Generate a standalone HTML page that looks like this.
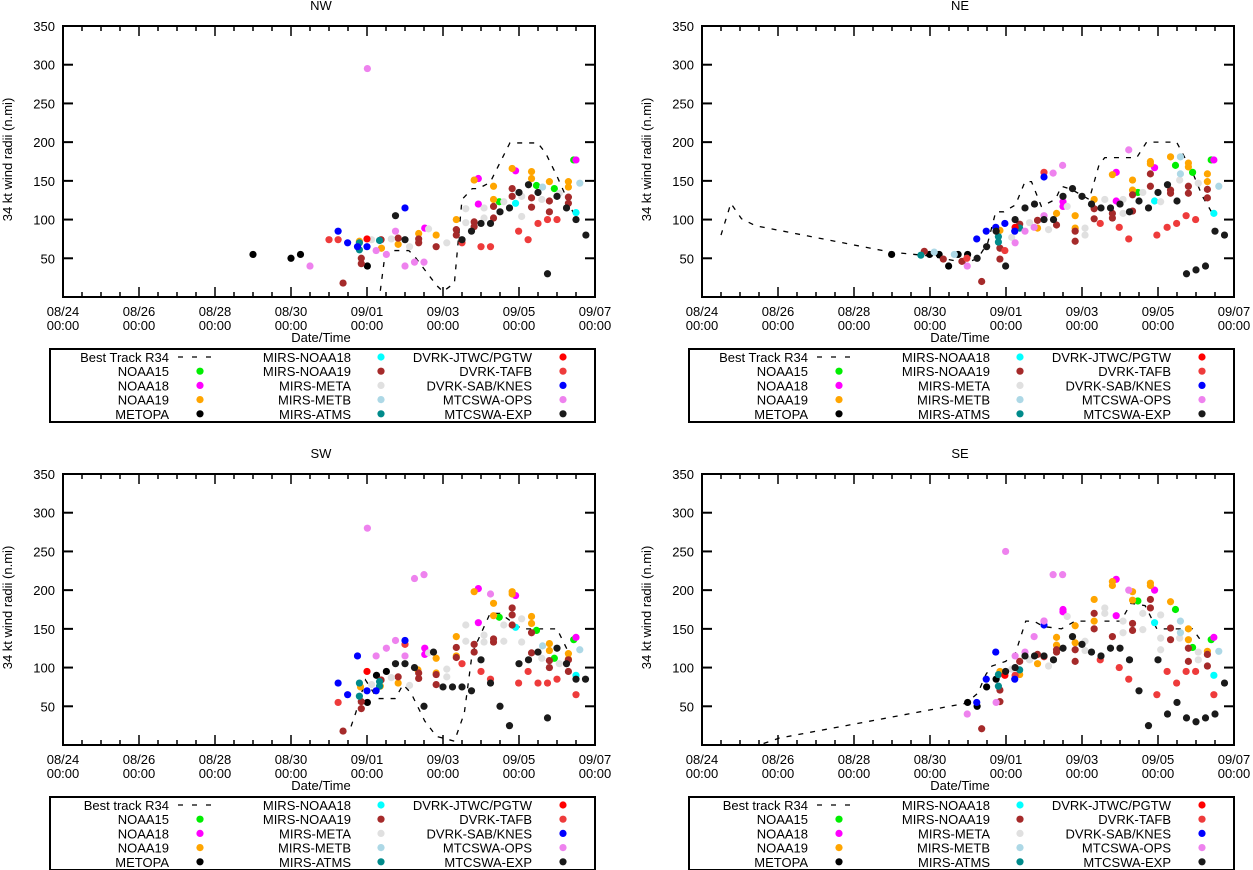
<!DOCTYPE html>
<html><head><meta charset="utf-8"><style>
html,body{margin:0;padding:0;background:#fff;}
svg{display:block;font-family:"Liberation Sans",sans-serif;}
</style></head><body>
<svg id="chart" width="1253" height="870" viewBox="0 0 1253 870" xmlns="http://www.w3.org/2000/svg"></svg>
<script>
// ---- shared axis data ----
const yTicks = [50,100,150,200,250,300,350];
const xTickLabels = ["08/24","08/26","08/28","08/30","09/01","09/03","09/05","09/07"];
const xTickDays = [0,2,4,6,8,10,12,14];
const seriesNames = ["NOAA15","NOAA18","NOAA19","METOPA","MIRS-NOAA18","MIRS-NOAA19","MIRS-META","MIRS-METB","MIRS-ATMS","DVRK-JTWC/PGTW","DVRK-TAFB","DVRK-SAB/KNES","MTCSWA-OPS","MTCSWA-EXP"];
const seriesColors = ["#00ee00","#ff00ff","#ffa500","#000000","#00ffff","#a52a2a","#e0e0e0","#add8e6","#008b8b","#ff0000","#ee3b3b","#0000ff","#ee82ee","#1a1a1a"];

// ---- NW (day offset from 08/24 00:00, radius n.mi) ----
const nwBest = [[8.35,8],[8.48,57],[8.58,60],[9.1,60],[9.26,52],[9.83,15],[10.0,7],[10.3,18],[10.5,126],[10.77,140],[10.93,140],[11.24,148],[11.76,199],[12.49,199],[12.7,186],[13.0,156],[13.47,104]];
const nwNOAA15 = [[11.48,123],[12.46,144],[12.93,140],[13.44,177]];
const nwNOAA18 = [[10.93,153],[10.93,120],[9.52,89],[11.91,163],[13.5,177]];
const nwNOAA19 = [[9.36,82],[9.82,80],[10.35,100],[10.82,151],[11.33,143],[11.33,126],[11.82,166],[12.33,162],[12.33,153],[12.8,149],[13.3,149],[13.3,142],[7.8,72],[8.38,63],[8.82,68]];
const nwMETOPA = [[5.0,55],[6.0,50],[6.25,55],[8.01,40]];
const nwMirsN18 = [[11.91,121],[13.5,109]];
const nwMirsN19 = [[7.37,18],[7.85,43],[7.85,50],[8.37,74],[8.82,76],[9.36,75],[9.36,70],[9.82,65],[10.35,87],[10.35,80],[10.82,97],[10.82,91],[11.33,117],[11.33,102],[11.82,140],[11.82,130],[12.33,128],[12.33,116],[12.8,124],[12.8,110],[13.3,129],[13.3,121]];
const nwMirsMETA = [[8.12,74],[8.64,75],[9.12,65],[9.62,88],[10.1,70],[10.6,114],[10.6,96],[11.08,115],[11.08,102],[11.6,123],[12.07,104],[12.07,130],[12.6,126],[13.06,134]];
const nwMirsMETB = [[12.62,142],[13.6,147]];
const nwMirsATMS = [[7.8,70],[7.8,61],[8.33,73]];
const nwJTWC = [[8.0,75]];
const nwTAFB = [[7.0,74],[7.24,74],[10.5,70],[11.0,65],[11.25,65],[11.99,85],[12.24,74],[12.5,95],[12.75,100],[13.0,100]];
const nwSAB = [[7.24,85],[7.49,70],[7.75,65],[8.0,65],[9.0,115]];
const nwOPS = [[8.01,295],[6.5,40],[8.24,60],[8.51,55],[8.75,85],[9.0,40],[9.25,45],[9.5,45]];
const nwEXP = [[8.75,105],[9.0,74],[10.5,74],[10.75,85],[11.0,95],[11.25,95],[11.5,110],[11.75,115],[12.0,135],[12.25,145],[12.5,135],[12.75,30],[13.0,130],[13.25,115],[13.5,100],[13.76,80]];

// ---- NE ----
const neBest = [[0.5,80],[0.76,121],[1.04,101],[1.41,92],[4.96,58],[6.0,53],[6.95,44],[7.26,50],[7.52,70],[7.73,110],[7.94,110],[8.25,119],[8.5,149],[8.67,149],[8.93,117],[9.3,126],[9.46,143],[9.72,139],[10.19,126],[10.45,171],[10.6,180],[11.44,180],[11.7,200],[12.49,200],[12.9,162],[13.17,130],[13.43,108]];
const neNOAA15 = [[11.47,135],[12.46,170],[12.91,161],[13.4,177]];
const neNOAA18 = [[10.9,161],[10.9,124],[9.5,123],[9.5,117],[11.91,167],[13.47,177]];
const neNOAA19 = [[7.84,86],[9.33,108],[9.82,105],[9.82,89],[10.32,126],[10.8,158],[11.33,151],[11.33,138],[11.8,175],[11.8,172],[12.33,181],[12.8,173],[12.8,168],[13.3,159],[13.3,149],[8.83,89]];
const neMETOPA = [[4.99,55],[5.99,55],[6.24,55],[6.49,40],[6.74,55],[6.99,55]];
const neMirsN18 = [[11.91,124],[13.47,108]];
const neMirsN19 = [[5.85,59],[6.35,49],[6.84,46],[7.36,20],[7.84,63],[7.84,49],[8.36,94],[8.83,99],[9.33,93],[9.82,85],[9.82,72],[10.32,114],[10.32,101],[10.8,108],[10.8,102],[11.33,132],[11.33,111],[11.8,159],[11.8,143],[12.33,138],[12.33,134],[12.8,143],[12.8,134],[13.3,139],[13.3,128]];
const neMirsMETA = [[8.15,77],[8.62,96],[9.12,87],[9.61,117],[10.08,89],[10.08,80],[10.6,126],[11.08,108],[11.08,126],[11.6,135],[12.07,123],[12.57,151],[13.06,147]];
const neMirsMETB = [[6.11,58],[6.64,55],[12.59,181],[12.59,159],[13.6,143]];
const neMirsATMS = [[5.76,54],[7.8,78],[7.8,71],[8.36,89]];
const neJTWC = [[8.24,90]];
const neTAFB = [[6.97,50],[7.97,60],[9.0,161],[10.48,95],[10.98,90],[11.23,75],[11.97,80],[12.24,90],[12.49,95],[12.74,105],[12.99,100]];
const neSAB = [[7.23,75],[7.48,85],[7.73,90],[7.97,95],[8.23,85],[9.0,155]];
const neOPS = [[6.98,40],[8.24,70],[8.5,85],[8.74,90],[9.0,105],[9.24,160],[9.49,170],[11.23,190]];
const neEXP = [[7.24,50],[7.49,65],[7.74,85],[7.99,40],[8.24,100],[8.5,115],[8.75,120],[9.0,100],[9.25,100],[9.5,130],[9.75,140],[10.0,130],[10.25,120],[10.5,115],[10.75,115],[11.0,120],[11.25,110],[11.5,124],[11.75,115],[12.0,135],[12.25,145],[12.5,124],[12.75,30],[13.0,35],[13.25,40],[13.5,85],[13.75,80]];

// ---- SW ----
const swBest = [[7.58,24],[7.7,41],[7.96,84],[8.27,60],[8.74,60],[8.95,78],[9.16,67],[9.52,31],[9.83,11],[10.3,5],[10.56,41],[10.77,119],[11.24,170],[11.5,170],[12.07,150],[13.0,150],[13.27,123]];
const swNOAA15 = [[11.48,165],[12.46,148],[12.93,112],[13.44,136]];
const swNOAA18 = [[10.93,202],[10.93,158],[9.52,125],[9.52,117],[11.91,193],[13.5,139]];
const swNOAA19 = [[7.83,75],[8.35,76],[8.82,80],[9.34,97],[9.82,112],[9.82,93],[10.35,140],[10.35,115],[10.82,198],[11.33,183],[11.33,167],[11.82,198],[11.82,195],[12.33,166],[12.33,157],[12.8,131],[12.8,122],[13.3,118],[13.3,111]];
const swMETOPA = [[8.01,55],[8.25,90],[8.51,95]];
const swMirsN18 = [[11.91,152],[13.5,90]];
const swMirsN19 = [[7.37,18],[7.85,56],[7.85,47],[8.37,84],[8.82,88],[9.36,93],[9.36,86],[9.82,91],[9.82,78],[10.35,126],[10.35,113],[10.82,130],[10.82,120],[11.33,137],[11.33,133],[11.82,177],[11.82,168],[11.82,155],[12.33,145],[12.33,119],[12.8,109],[12.8,100],[13.3,110],[13.3,95]];
const swMirsMETA = [[8.12,78],[8.64,87],[9.12,77],[9.62,119],[10.1,98],[10.1,88],[10.6,155],[10.6,134],[11.08,142],[11.08,133],[11.6,155],[11.6,134],[12.07,163],[12.07,133],[12.6,112],[13.06,105]];
const swMirsMETB = [[12.62,128],[13.6,123]];
const swMirsATMS = [[7.8,80],[7.8,63],[8.33,82],[8.33,76]];
const swJTWC = [[8.0,95]];
const swTAFB = [[7.24,55],[9.0,130],[10.5,105],[11.0,95],[11.25,85],[11.99,80],[12.24,95],[12.5,80],[12.75,80],[13.0,85],[13.5,65]];
const swSAB = [[7.24,80],[7.49,65],[7.75,115],[8.0,70],[8.24,70],[9.0,135]];
const swOPS = [[8.01,280],[8.24,115],[8.51,125],[8.75,135],[9.0,115],[9.25,215],[9.5,220],[11.25,195]];
const swEXP = [[8.75,105],[9.0,105],[9.25,100],[9.5,50],[9.75,120],[10.0,75],[10.25,75],[10.5,75],[10.75,70],[11.0,110],[11.25,80],[11.5,50],[11.75,25],[12.0,105],[12.25,110],[12.5,120],[12.75,35],[13.0,125],[13.25,105],[13.5,85],[13.75,85]];

// ---- SE ----
const seBest = [[1.62,2],[2.04,9],[6.95,54],[7.26,67],[7.47,91],[7.63,102],[7.99,108],[8.25,119],[8.52,160],[8.73,160],[8.99,153],[9.46,150],[9.82,160],[11.02,160],[11.29,183],[11.66,180],[11.97,150],[12.91,150],[13.17,132]];
const seNOAA15 = [[11.47,186],[12.46,175],[12.91,126],[13.4,136]];
const seNOAA18 = [[10.9,214],[10.9,167],[9.5,175],[9.5,172],[11.91,200],[13.47,139],[9.0,160]];
const seNOAA19 = [[7.84,95],[8.36,91],[8.83,105],[9.33,139],[9.33,129],[9.82,154],[9.82,132],[10.32,188],[10.32,160],[10.8,211],[10.8,206],[11.33,198],[11.33,187],[11.8,209],[11.8,206],[12.33,185],[12.8,150],[12.8,136],[13.3,121]];
const seMETOPA = [[6.99,55],[7.24,50],[7.49,75],[7.74,85]];
const seMirsN18 = [[11.91,158],[13.47,90]];
const seMirsN19 = [[7.36,21],[7.84,71],[7.84,56],[8.36,108],[8.83,117],[9.33,123],[9.33,120],[9.82,123],[9.82,108],[10.32,170],[10.32,150],[10.8,140],[11.33,157],[11.33,148],[11.8,188],[11.8,177],[12.33,151],[12.33,136],[12.8,125],[12.8,108],[13.3,117],[13.3,102]];
const seMirsMETA = [[8.15,98],[8.62,110],[9.12,102],[9.61,166],[10.08,134],[10.08,122],[10.6,177],[10.6,170],[11.08,160],[11.08,145],[11.6,170],[11.6,149],[12.07,168],[12.07,138],[12.07,123],[12.57,138],[13.06,120],[13.06,110]];
const seMirsMETB = [[12.59,160],[12.59,145],[13.6,121]];
const seMirsATMS = [[7.8,91],[7.8,76],[8.36,97]];
const seJTWC = [[7.97,90]];
const seTAFB = [[8.24,90],[9.0,114],[10.48,110],[10.98,100],[11.23,85],[11.97,65],[12.24,95],[12.49,80],[12.74,95],[12.99,95],[13.47,65]];
const seSAB = [[7.23,55],[7.48,85],[7.73,120],[8.23,85],[9.0,155]];
const seOPS = [[6.98,40],[7.74,55],[7.99,250],[8.24,115],[8.5,120],[8.74,140],[9.0,160],[9.24,220],[9.49,220],[11.23,200]];
const seEXP = [[7.99,95],[8.24,100],[8.5,115],[8.75,115],[9.0,115],[9.25,110],[9.5,125],[9.75,140],[10.0,130],[10.25,120],[10.5,115],[10.75,125],[11.0,125],[11.25,110],[11.5,70],[11.75,25],[12.0,110],[12.25,40],[12.5,55],[12.75,35],[13.0,30],[13.25,35],[13.5,40],[13.75,80]];

const panels = [
  {id:"nw", title:"NW", best:"Best Track R34", left:63, right:595, top:26, bottom:297, legTop:349, lineData:nwBest,
   series:[nwNOAA15,nwNOAA18,nwNOAA19,nwMETOPA,nwMirsN18,nwMirsN19,nwMirsMETA,nwMirsMETB,nwMirsATMS,nwJTWC,nwTAFB,nwSAB,nwOPS,nwEXP]},
  {id:"ne", title:"NE", best:"Best Track R34", left:702, right:1234, top:26, bottom:297, legTop:349, lineData:neBest,
   series:[neNOAA15,neNOAA18,neNOAA19,neMETOPA,neMirsN18,neMirsN19,neMirsMETA,neMirsMETB,neMirsATMS,neJTWC,neTAFB,neSAB,neOPS,neEXP]},
  {id:"sw", title:"SW", best:"Best track R34", left:63, right:595, top:474, bottom:745, legTop:797, lineData:swBest,
   series:[swNOAA15,swNOAA18,swNOAA19,swMETOPA,swMirsN18,swMirsN19,swMirsMETA,swMirsMETB,swMirsATMS,swJTWC,swTAFB,swSAB,swOPS,swEXP]},
  {id:"se", title:"SE", best:"Best track R34", left:702, right:1234, top:474, bottom:745, legTop:797, lineData:seBest,
   series:[seNOAA15,seNOAA18,seNOAA19,seMETOPA,seMirsN18,seMirsN19,seMirsMETA,seMirsMETB,seMirsATMS,seJTWC,seTAFB,seSAB,seOPS,seEXP]}
];

const NS = "http://www.w3.org/2000/svg";
const svg = document.getElementById("chart");
function mk(tag, attrs, parent){
  const e = document.createElementNS(NS, tag);
  for (const k in attrs) e.setAttribute(k, attrs[k]);
  (parent||svg).appendChild(e);
  return e;
}

panels.forEach(p => {
  const g = mk("g", {});
  
  
  const xs = d => p.left + (d/14)*(p.right-p.left);
  const ys = v => p.bottom - (v/350)*(p.bottom-p.top);
  const cx = (p.left+p.right)/2;

  const t = mk("text", {x:cx-8, y:p.top-16, "font-size":13, "text-anchor":"middle"}, g);
  t.textContent = p.title;
  
  

  const yl = mk("text", {x:0, y:0, "font-size":13, "text-anchor":"middle", transform:`translate(${p.left-51},${(p.top+p.bottom)/2-2}) rotate(-90)`}, g);
  yl.textContent = "34 kt wind radii (n.mi)";
  
  

  const xl = mk("text", {x:cx-8, y:p.bottom+45, "font-size":13, "text-anchor":"middle"}, g);
  xl.textContent = "Date/Time";
  
  

  // y ticks
  yTicks.forEach(v => {
    const y = ys(v);
    mk("line", {x1:p.left, x2:p.left+10, y1:y, y2:y, stroke:"#000", "stroke-width":2}, g);
    mk("line", {x1:p.right-10, x2:p.right, y1:y, y2:y, stroke:"#000", "stroke-width":2}, g);
    const tl = mk("text", {x:p.left-8, y:y+5, "font-size":13, "text-anchor":"end"}, g);
    tl.textContent = v;
    
    
  });
  // x minor ticks every 12h
  for (let h = 0; h <= 28; h++) {
    const x = xs(h/2);
    const len = (h % 4 === 0) ? 10 : 5;
    mk("line", {x1:x, x2:x, y1:p.bottom, y2:p.bottom-len, stroke:"#000", "stroke-width":1.5}, g);
    mk("line", {x1:x, x2:x, y1:p.top, y2:p.top+len, stroke:"#000", "stroke-width":1.5}, g);
  }
  xTickDays.forEach((d,i) => {
    const x = xs(d);
    const a = mk("text", {x:x, y:p.bottom+19, "font-size":13, "text-anchor":"middle"}, g);
    a.textContent = xTickLabels[i];
    
    
    const b = mk("text", {x:x, y:p.bottom+33, "font-size":13, "text-anchor":"middle"}, g);
    b.textContent = "00:00";
    
    
  });

  // best track line
  const line = mk("polyline", {points:p.lineData.map(q=>xs(q[0])+","+ys(q[1])).join(" "), fill:"none", stroke:"#000", "stroke-width":1.3, "stroke-dasharray":"5,7"}, g);
  
  

  // scatter points
  p.series.forEach((arr, si) => {
    arr.forEach(q => {
      const c = mk("circle", {cx:xs(q[0]), cy:ys(q[1]), r:3.6, fill:seriesColors[si]}, g);
      
      
    });
  });

  // frame
  const fr = mk("rect", {x:p.left, y:p.top, width:p.right-p.left, height:p.bottom-p.top, fill:"none", stroke:"#000", "stroke-width":2}, g);
  
  

  // legend
  const lg = mk("g", {}, g);
  
  
  const lx = p.left - 13;
  mk("rect", {x:lx, y:p.legTop, width:p.right-lx, height:73, fill:"none", stroke:"#000", "stroke-width":2}, lg);
  const names = [p.best].concat(seriesNames.filter((n,i)=>i!==3).slice(0,0));
  const cols = [
    [p.best,"NOAA15","NOAA18","NOAA19","METOPA"],
    ["MIRS-NOAA18","MIRS-NOAA19","MIRS-META","MIRS-METB","MIRS-ATMS"],
    ["DVRK-JTWC/PGTW","DVRK-TAFB","DVRK-SAB/KNES","MTCSWA-OPS","MTCSWA-EXP"]
  ];
  const labelRight = [106, 288, 469];
  const keyX = [137, 318, 500];
  cols.forEach((col, ci) => {
    col.forEach((name, ri) => {
      const y = p.legTop + 8 + ri*14.2;
      const tx = mk("text", {x:p.left+labelRight[ci], y:y+5, "font-size":13, "text-anchor":"end"}, lg);
      tx.textContent = name;
      
      
      if (ci === 0 && ri === 0) {
        mk("line", {x1:p.left+115, x2:p.left+153, y1:y, y2:y, stroke:"#000", "stroke-width":1.3, "stroke-dasharray":"5,9"}, lg);
      } else {
        const idx = seriesNames.indexOf(name);
        const dot = mk("circle", {cx:p.left+keyX[ci], cy:y, r:3.6, fill:seriesColors[idx]}, lg);
        
        
      }
    });
  });
});
</script>
</body></html>
